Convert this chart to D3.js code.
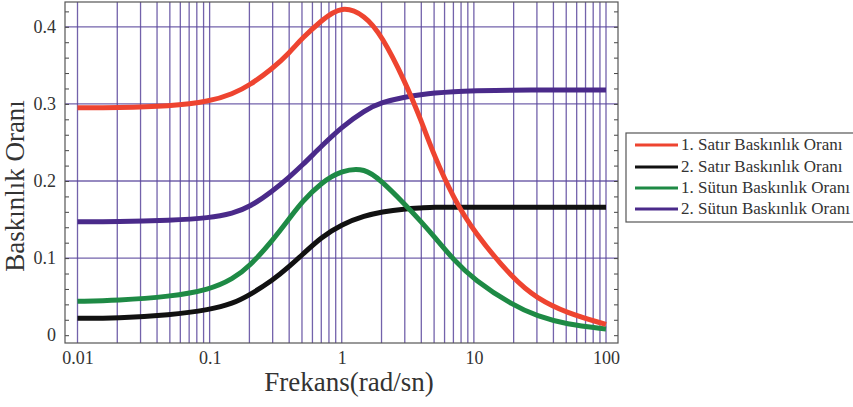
<!DOCTYPE html>
<html>
<head>
<meta charset="utf-8">
<script src="https://cdn.jsdelivr.net/npm/d3@7"></script>
<style>
  body { margin: 0; background: #fff; }
  svg { display: block; }
</style>
</head>
<body>
<div id="chart"></div>
<script>
const frequencies = [0.01, 0.02, 0.05, 0.1, 0.15, 0.2, 0.3, 0.4, 0.5, 0.7, 1, 1.5, 2, 3, 4, 5, 7, 10, 20, 30, 50, 100];
const satir1 = [0.295, 0.295, 0.297, 0.303, 0.313, 0.324, 0.346, 0.366, 0.385, 0.408, 0.428, 0.415, 0.389, 0.330, 0.278, 0.233, 0.178, 0.134, 0.072, 0.048, 0.029, 0.014];
const satir2 = [0.022, 0.022, 0.026, 0.033, 0.041, 0.052, 0.071, 0.089, 0.104, 0.127, 0.144, 0.155, 0.160, 0.164, 0.165, 0.166, 0.166, 0.166, 0.166, 0.166, 0.166, 0.166];
const sutun1 = [0.044, 0.045, 0.050, 0.059, 0.073, 0.089, 0.123, 0.151, 0.173, 0.198, 0.214, 0.217, 0.200, 0.170, 0.147, 0.128, 0.098, 0.072, 0.038, 0.025, 0.014, 0.008];
const sutun2 = [0.147, 0.147, 0.149, 0.152, 0.158, 0.166, 0.187, 0.205, 0.220, 0.245, 0.270, 0.292, 0.302, 0.309, 0.312, 0.314, 0.316, 0.317, 0.318, 0.318, 0.318, 0.318];
const seriesNames = ["1. Satır Baskınlık Oranı", "2. Satır Baskınlık Oranı", "1. Sütun Baskınlık Oranı", "2. Sütun Baskınlık Oranı"];
const seriesColors = ["#ee4430", "#111111", "#1e8a45", "#4a2a8a"];
const xTickValues = [0.01, 0.1, 1, 10, 100];
const yTickValues = [0, 0.1, 0.2, 0.3, 0.4];

const W = 853, H = 407;
const frame = { left: 65, top: 2, right: 618, bottom: 343 };
const serif = "'Liberation Serif', 'DejaVu Serif', serif";

const svg = d3.select("#chart").append("svg")
    .attr("width", W)
    .attr("height", H);

const x = d3.scaleLog().domain([0.01, 100]).range([77.5, 606]);
const y = d3.scaleLinear().domain([0, 0.4]).range([335.2, 26.8]);

// grid: vertical lines at 1..9 x each decade
const gridX = [];
[0.01, 0.1, 1, 10].forEach(d => { for (let k = 1; k < 10; k++) gridX.push(d * k); });
gridX.push(100);

const grid = svg.append("g");
grid.selectAll(".vx")
    .data(gridX)
    .enter()
    .append("line")
    .attr("x1", d => x(d)).attr("x2", d => x(d))
    .attr("y1", frame.top).attr("y2", frame.bottom)
    .attr("stroke", "#5a469c")
    .attr("stroke-opacity", 0.85)
    .attr("stroke-width", 1.3);
grid.selectAll(".hy")
    .data([0.1, 0.2, 0.3, 0.4])
    .enter()
    .append("line")
    .attr("x1", frame.left).attr("x2", frame.right)
    .attr("y1", d => y(d)).attr("y2", d => y(d))
    .attr("stroke", "#5a469c")
    .attr("stroke-opacity", 0.85)
    .attr("stroke-width", 1.3);

// minor ticks inside left and right edges
const minor = d3.range(0, 0.44, 0.02).filter(v => y(v) > frame.top);
svg.append("g")
    .attr("transform", `translate(${frame.left},0)`)
    .call(d3.axisRight(y).tickValues(minor).tickSize(4).tickFormat(""))
    .call(g => g.select(".domain").remove())
    .selectAll("line").attr("stroke", "#444");
svg.append("g")
    .attr("transform", `translate(${frame.right},0)`)
    .call(d3.axisLeft(y).tickValues(minor).tickSize(4).tickFormat(""))
    .call(g => g.select(".domain").remove())
    .selectAll("line").attr("stroke", "#444");

// curves
const rows = frequencies.map((f, i) => ({ f, v: [satir1[i], satir2[i], sutun1[i], sutun2[i]] }));
const line = k => d3.line()
    .x(d => x(d.f))
    .y(d => y(d.v[k]))
    .curve(d3.curveBasis);
[1, 3, 2, 0].forEach(k => {
    svg.append("path")
        .datum(rows)
        .attr("d", line(k))
        .attr("fill", "none")
        .attr("stroke", seriesColors[k])
        .attr("stroke-width", 5)
        .attr("stroke-linejoin", "round");
});

// frame
svg.append("rect")
    .attr("x", frame.left).attr("y", frame.top)
    .attr("width", frame.right - frame.left)
    .attr("height", frame.bottom - frame.top)
    .attr("fill", "none")
    .attr("stroke", "#555")
    .attr("stroke-width", 1.2);

// tick labels
svg.append("g")
    .attr("transform", `translate(${frame.left - 6},0)`)
    .call(d3.axisLeft(y).tickValues(yTickValues).tickSize(0)
        .tickFormat(d => d === 0 ? "0" : d3.format(".1f")(d)))
    .call(g => g.select(".domain").remove())
    .selectAll("text")
    .attr("font-family", serif)
    .attr("font-size", "18px")
    .attr("fill", "#333");
svg.append("g")
    .attr("transform", `translate(0,${frame.bottom + 5})`)
    .call(d3.axisBottom(x).tickValues(xTickValues).tickSize(0)
        .tickFormat(d => String(d)))
    .call(g => g.select(".domain").remove())
    .selectAll("text")
    .attr("font-family", serif)
    .attr("font-size", "18px")
    .attr("fill", "#333");

// axis titles
svg.append("text")
    .attr("x", 349)
    .attr("y", 391)
    .text("Frekans(rad/sn)")
    .attr("font-family", serif)
    .attr("font-size", "27px")
    .attr("text-anchor", "middle")
    .attr("fill", "#333");
svg.append("text")
    .attr("transform", "translate(24,186) rotate(-90)")
    .text("Baskınlık Oranı")
    .attr("font-family", serif)
    .attr("font-size", "27px")
    .attr("text-anchor", "middle")
    .attr("fill", "#333");

// legend
const legend = svg.append("g");
legend.append("rect")
    .attr("x", 626).attr("y", 133)
    .attr("width", 240).attr("height", 89)
    .attr("fill", "#fff")
    .attr("stroke", "#555")
    .attr("stroke-width", 1.2);
const rowsY = [145, 167, 188, 209];
seriesNames.forEach((name, i) => {
    legend.append("line")
        .attr("x1", 635).attr("x2", 678)
        .attr("y1", rowsY[i]).attr("y2", rowsY[i])
        .attr("stroke", seriesColors[i])
        .attr("stroke-width", 3);
    legend.append("text")
        .attr("x", 681)
        .attr("y", rowsY[i] + 5)
        .text(name)
        .attr("font-family", serif)
        .attr("font-size", "17px")
        .attr("fill", "#333");
});
</script>
</body>
</html>
